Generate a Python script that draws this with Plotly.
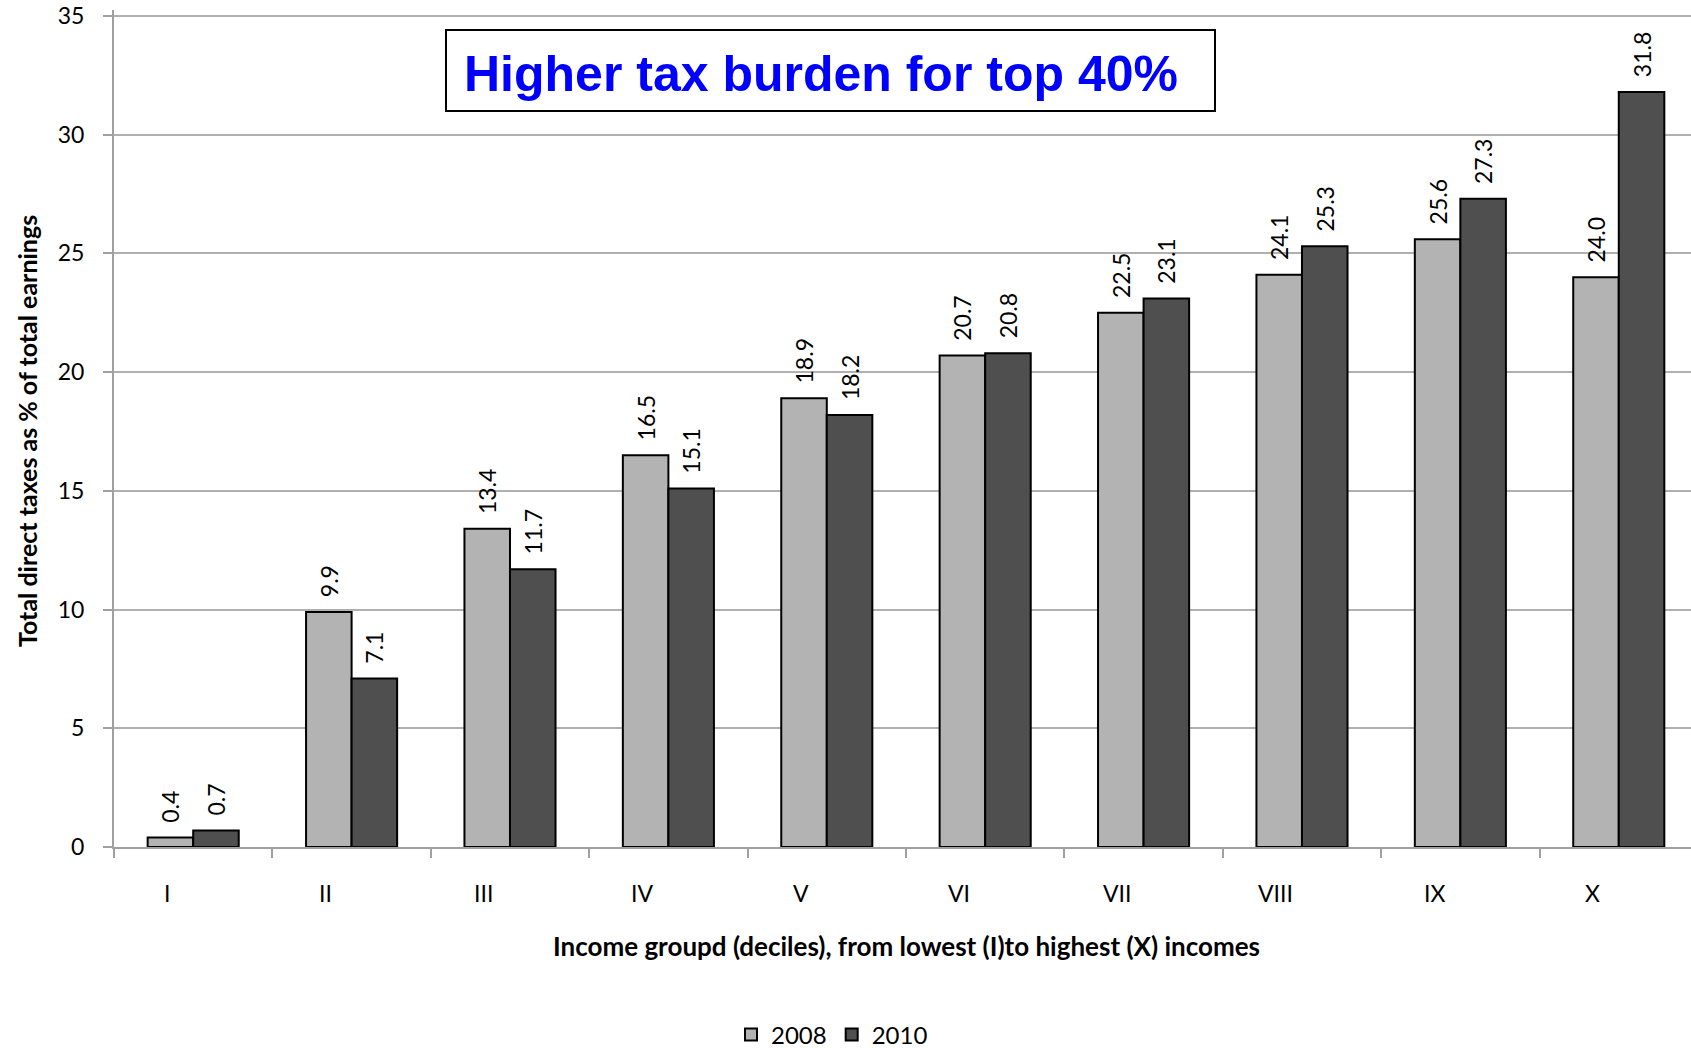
import plotly.graph_objects as go

categories = ["I", "II", "III", "IV", "V", "VI", "VII", "VIII", "IX", "X"]
values_2008 = [0.4, 9.9, 13.4, 16.5, 18.9, 20.7, 22.5, 24.1, 25.6, 24.0]
values_2010 = [0.7, 7.1, 11.7, 15.1, 18.2, 20.8, 23.1, 25.3, 27.3, 31.8]
series_names = ["2008", "2010"]
y_ticks = [0, 5, 10, 15, 20, 25, 30, 35]

W, H = 1691, 1048
L, R, T, B = 114, 0, 10, 201
pw, ph = W - L - R, H - T - B
Y_TOP = 35 + 6 / (831 / 35)

FONT = "Lato, 'Open Sans', sans-serif"
NB = "\u00a0"

fig = go.Figure()
for name, vals, color in [(series_names[0], values_2008, "#b3b3b3"),
                          (series_names[1], values_2010, "#4f4f4f")]:
    fig.add_trace(go.Bar(
        x=categories, y=vals, name=name,
        marker=dict(color=color, line=dict(color="#000000", width=2)),
        text=[NB * 2 + f"{v:.1f}" for v in vals],
        textposition="outside", textangle=-90, constraintext="none",
        textfont=dict(family=FONT, size=23, color="#000000"),
        cliponaxis=False,
    ))

def px_x(x):
    return (x - L) / pw

def px_y(y):
    return 1 - (y - T) / ph

annotations = [
    dict(text="<b>Higher tax burden for top 40%</b>", xref="paper", yref="paper",
         x=px_x(821), y=px_y(74), xanchor="center", yanchor="middle", showarrow=False,
         font=dict(family="Liberation Sans, Arial, sans-serif", size=50, color="#0000ff")),
    dict(text="<b>Total direct taxes as % of total earnings</b>", xref="paper", yref="paper",
         x=px_x(27), y=px_y(431), xanchor="center", yanchor="middle", showarrow=False,
         textangle=-90, font=dict(family=FONT, size=25)),
    dict(text="<b>Income groupd (deciles), from lowest (I)to highest (X) incomes</b>",
         xref="paper", yref="paper", x=px_x(906), y=px_y(946), xanchor="center", yanchor="middle",
         showarrow=False, font=dict(family=FONT, size=26)),
]
# category labels (offset slightly left of centre as in the reference)
for i, c in enumerate(categories):
    annotations.append(dict(text=c, xref="x", yref="paper", x=i - 0.165, y=px_y(893),
                            xanchor="center", yanchor="middle", showarrow=False,
                            font=dict(family=FONT, size=23)))

fig.update_layout(
    width=W, height=H,
    margin=dict(l=L, r=R, t=T, b=B, autoexpand=False),
    paper_bgcolor="white", plot_bgcolor="white",
    barmode="group", bargap=0.425, bargroupgap=0,
    font=dict(family=FONT, size=23, color="#000000"),
    showlegend=True,
    legend=dict(orientation="h", x=px_x(832), y=px_y(1035), xanchor="center", yanchor="middle",
                font=dict(family=FONT, size=24), itemwidth=30, traceorder="normal"),
    xaxis=dict(range=[-0.5, 9.456], showgrid=False, showline=True, linecolor="#a0a0a0", linewidth=2,
               ticks="outside", tickson="boundaries", ticklen=9, tickcolor="#a0a0a0", tickwidth=2,
               showticklabels=False),
    yaxis=dict(range=[0, Y_TOP], tickvals=y_ticks, showgrid=True, gridcolor="#b0b0b0", gridwidth=2,
               showline=True, linecolor="#a0a0a0", linewidth=2, zeroline=False,
               ticks="outside", ticklen=9, tickcolor="#a0a0a0", tickwidth=2,
               tickfont=dict(family=FONT, size=23), ticklabelstandoff=14,
               ticklabeloverflow="allow"),
    shapes=[dict(type="rect", xref="paper", yref="paper",
                 x0=px_x(446), x1=px_x(1215), y0=px_y(111), y1=px_y(30),
                 line=dict(color="#000000", width=2), fillcolor="white", layer="above")],
    annotations=annotations,
)

fig.write_html("out.html")
